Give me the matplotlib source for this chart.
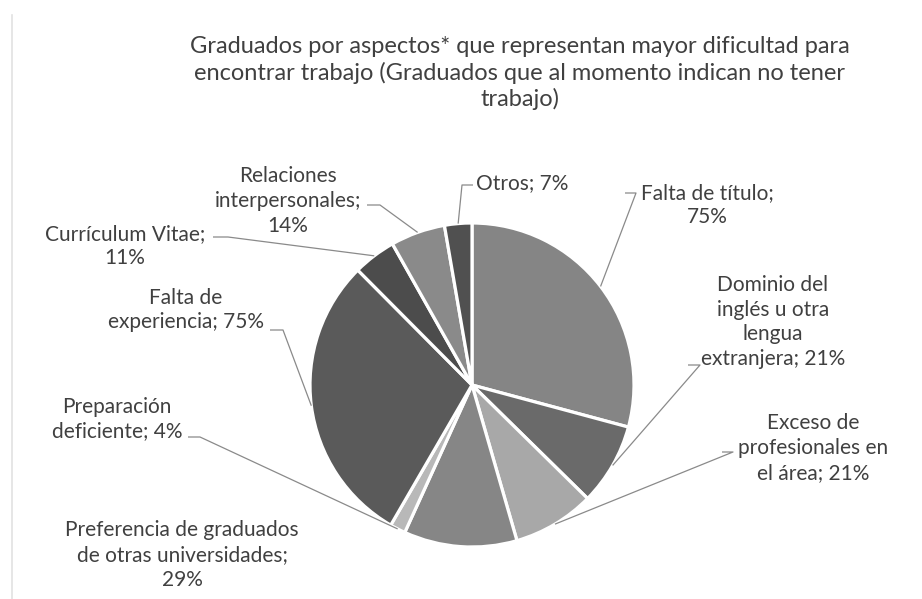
import numpy as np
import matplotlib
matplotlib.use("Agg")
import matplotlib.pyplot as plt

# datos del gráfico (orden horario desde arriba)
categorias = [
    "Falta de título",
    "Dominio del inglés u otra lengua extranjera",
    "Exceso de profesionales en el área",
    "Preferencia de graduados de otras universidades",
    "Preparación deficiente",
    "Falta de experiencia",
    "Currículum Vitae",
    "Relaciones interpersonales",
    "Otros",
]
valores = [75, 21, 21, 29, 4, 75, 11, 14, 7]
etiquetas = [
    "Falta de título;\n75%",
    "Dominio del\ninglés u otra\nlengua\nextranjera; 21%",
    "Exceso de\nprofesionales en\nel área; 21%",
    "Preferencia de graduados\nde otras universidades;\n29%",
    "Preparación\ndeficiente; 4%",
    "Falta de\nexperiencia; 75%",
    "Currículum Vitae;\n11%",
    "Relaciones\ninterpersonales;\n14%",
    "Otros; 7%",
]
colores = ["#858585", "#6a6a6a", "#a8a8a8", "#868686", "#b8b8b8",
           "#5a5a5a", "#4c4c4c", "#8a8a8a", "#505050"]

titulo = ("Graduados por aspectos* que representan mayor dificultad para\n"
          "encontrar trabajo (Graduados que al momento indican no tener\n"
          "trabajo)")

W, H = 922, 599
plt.rcParams["font.family"] = ["Lato", "DejaVu Sans"]
TXT = "#404040"
LINE = "#8a8a8a"

fig = plt.figure(figsize=(W / 100, H / 100), dpi=100)
ax = fig.add_axes([0, 0, 1, 1])

cx, cy, r = 472, H - 385, 162
wedges, _ = ax.pie(valores, colors=colores, startangle=90, counterclock=False,
                   center=(cx, cy), radius=r, frame=True,
                   wedgeprops=dict(edgecolor="white", linewidth=2.3))
ax.set_xlim(0, W)
ax.set_ylim(0, H)
ax.set_aspect("equal")
ax.axis("off")

# posición de etiquetas (px desde arriba) y tramo horizontal de la guía
pos = [
    (707, 205, (625, 193), (636, 193)),
    (773, 322, (688, 365), (700, 365)),
    (813, 448, (722, 452), (733, 452)),
    (182, 555, None, None),
    (117, 419, (188, 437), (200, 437)),
    (186, 310, (270, 330), (283, 330)),
    (125, 246, (213, 237), (228, 237)),
    (288, 201, (367, 205), (380, 205)),
    (522, 183, (473, 185), (462, 185)),
]

for w, lab, (tx, ty, p0, p1) in zip(wedges, etiquetas, pos):
    ax.text(tx, H - ty, lab, ha="center", va="center", fontsize=15, color=TXT,
            linespacing=1.3, multialignment="center")
    if p0 is None:
        continue
    ang = np.deg2rad((w.theta1 + w.theta2) / 2)
    ex, ey = cx + r * np.cos(ang), cy + r * np.sin(ang)
    ax.plot([p0[0], p1[0], ex], [H - p0[1], H - p1[1], ey],
            color=LINE, lw=0.9, solid_capstyle="butt")

ax.text(520, H - 73, titulo, ha="center", va="center", fontsize=17,
        color=TXT, linespacing=1.25, multialignment="center")

# borde izquierdo del recuadro
ax.plot([12, 12], [0, H - 15], color="#e2e2e2", lw=1.2)

fig.savefig("out.png", dpi=100, facecolor="white")
